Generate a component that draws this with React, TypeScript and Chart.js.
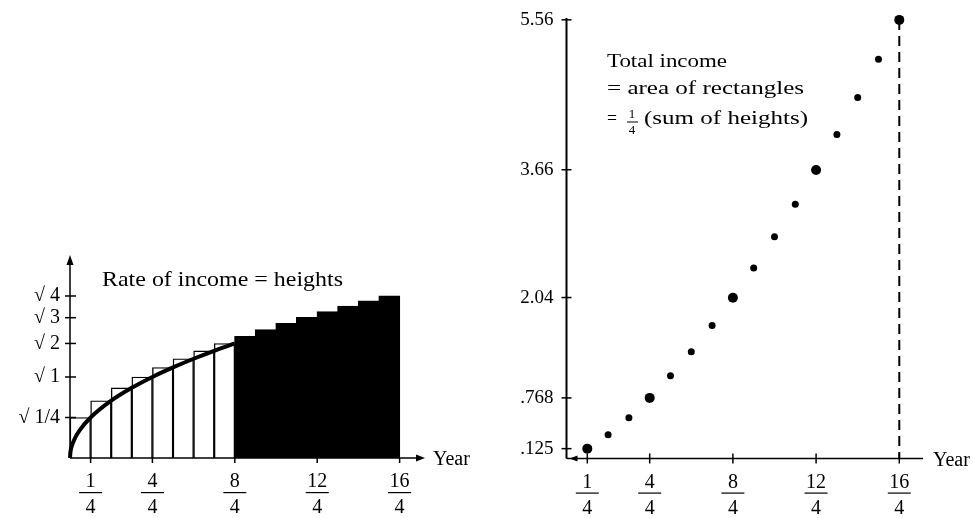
import React, { useEffect, useRef } from "react";
import { Chart, registerables } from "chart.js";

Chart.register(...registerables);

const FONT = "'Liberation Serif', 'Times New Roman', 'DejaVu Serif', serif";

// ---------- Data: left chart (rate of income = heights) ----------
const quarters = [1, 2, 3, 4, 5, 6, 7, 8, 9, 10, 11, 12, 13, 14, 15, 16];
const barHeights = [
  0.5, 0.707, 0.866, 1.0, 1.118, 1.225, 1.323, 1.414,
  1.5, 1.581, 1.658, 1.732, 1.803, 1.871, 1.936, 2.0,
];
const openBarCount = 8; // first 8 rectangles are drawn white
const curveX = [0, 0.005, 0.02, 0.0625, 0.125, 0.25, 0.5, 0.75, 1, 1.25, 1.5, 1.75, 2];
const curveY = [0, 0.071, 0.141, 0.25, 0.354, 0.5, 0.707, 0.866, 1, 1.118, 1.225, 1.323, 1.414];
const rateTickValues = [0.5, 1, 1.414, 1.732, 2];
const rateTickLabels = ["√ 1/4", "√ 1", "√ 2", "√ 3", "√ 4"];

// ---------- Data: right chart (total income) ----------
const totalIncome = [
  0.125, 0.302, 0.518, 0.768, 1.048, 1.354, 1.685, 2.038,
  2.413, 2.809, 3.223, 3.656, 4.107, 4.575, 5.059, 5.559,
];
const highlightQuarters = [1, 4, 8, 12, 16];
const totalTickValues = [0.125, 0.768, 2.04, 3.66, 5.56];
const totalTickLabels = [".125", ".768", "2.04", "3.66", "5.56"];

// ---------- Shared x tick labels (fractions n/4) ----------
const yearTickNumerators = ["1", "4", "8", "12", "16"];
const yearTickDenominator = "4";

function fitText(ctx: CanvasRenderingContext2D, text: string, x: number, base: number, width: number, size: number) {
  ctx.font = `${size}px ${FONT}`;
  const w = ctx.measureText(text).width;
  ctx.save();
  ctx.translate(x, base);
  ctx.scale(width / w, 1);
  ctx.textAlign = "left";
  ctx.textBaseline = "alphabetic";
  ctx.fillText(text, 0, 0);
  ctx.restore();
}

function drawFraction(ctx: CanvasRenderingContext2D, cx: number, axisY: number, num: string, den: string) {
  ctx.font = `20px ${FONT}`;
  ctx.textAlign = "center";
  ctx.textBaseline = "middle";
  ctx.fillText(num, cx, axisY + 24);
  ctx.fillRect(cx - 11.5, axisY + 34, 23, 1.2);
  ctx.fillText(den, cx, axisY + 50);
}

function seg(ctx: CanvasRenderingContext2D, x1: number, y1: number, x2: number, y2: number) {
  ctx.beginPath();
  ctx.moveTo(x1, y1);
  ctx.lineTo(x2, y2);
  ctx.stroke();
}

function tri(ctx: CanvasRenderingContext2D, pts: number[][]) {
  ctx.beginPath();
  ctx.moveTo(pts[0][0], pts[0][1]);
  ctx.lineTo(pts[1][0], pts[1][1]);
  ctx.lineTo(pts[2][0], pts[2][1]);
  ctx.closePath();
  ctx.fill();
}

const leftPlugin = {
  id: "leftAxes",
  afterDatasetsDraw(chart: any) {
    const ctx: CanvasRenderingContext2D = chart.ctx;
    const xs = chart.scales.x;
    const ys = chart.scales.y;
    const area = chart.chartArea;
    const x0 = xs.getPixelForValue(0);
    const y0 = ys.getPixelForValue(0);
    ctx.save();
    ctx.strokeStyle = "#000";
    ctx.fillStyle = "#000";
    ctx.lineWidth = 1.5;
    // axes
    seg(ctx, x0, y0, area.right - 4, y0);
    seg(ctx, x0, y0, x0, area.top + 4);
    tri(ctx, [[area.right, y0], [area.right - 9, y0 - 3.5], [area.right - 9, y0 + 3.5]]);
    tri(ctx, [[x0, area.top], [x0 - 3.5, area.top + 10], [x0 + 3.5, area.top + 10]]);
    // y ticks
    ctx.font = `20px ${FONT}`;
    ctx.textAlign = "right";
    ctx.textBaseline = "middle";
    rateTickValues.forEach((v, i) => {
      const y = ys.getPixelForValue(v);
      seg(ctx, x0 - 5, y, x0 + 6, y);
      ctx.fillText(rateTickLabels[i], x0 - 10, y);
    });
    // x ticks
    yearTickNumerators.forEach((n) => {
      const x = xs.getPixelForValue(Number(n) / Number(yearTickDenominator));
      seg(ctx, x, y0, x, y0 + 5);
      drawFraction(ctx, x, y0, n, yearTickDenominator);
    });
    // axis title
    ctx.font = `20px ${FONT}`;
    ctx.textAlign = "left";
    ctx.textBaseline = "alphabetic";
    ctx.fillText("Year", area.right + 8, y0 + 7);
    // note
    fitText(ctx, "Rate of income = heights", 102, 286, 241, 21);
    ctx.restore();
  },
};

const rightPlugin = {
  id: "rightAxes",
  beforeDatasetsDraw(chart: any) {
    const ctx: CanvasRenderingContext2D = chart.ctx;
    const xs = chart.scales.x;
    const ys = chart.scales.y;
    const area = chart.chartArea;
    const x0 = xs.getPixelForValue(0);
    const y0 = ys.getPixelForValue(0);
    ctx.save();
    ctx.strokeStyle = "#000";
    ctx.fillStyle = "#000";
    ctx.lineWidth = 1.5;
    seg(ctx, x0, y0, area.right, y0);
    ctx.lineWidth = 2;
    seg(ctx, x0, y0, x0, area.top);
    ctx.lineWidth = 1.5;
    tri(ctx, [[x0 + 3, y0], [x0 + 11, y0 - 3], [x0 + 11, y0 + 3]]);
    ctx.font = `19px ${FONT}`;
    ctx.textAlign = "right";
    ctx.textBaseline = "middle";
    totalTickValues.forEach((v, i) => {
      const y = ys.getPixelForValue(v);
      seg(ctx, x0 - 5, y, x0 + 5, y);
      ctx.fillText(totalTickLabels[i], x0 - 13, y);
    });
    yearTickNumerators.forEach((n) => {
      const x = xs.getPixelForValue(Number(n) / Number(yearTickDenominator));
      seg(ctx, x, y0 - 5, x, y0 + 5);
      drawFraction(ctx, x, y0, n, yearTickDenominator);
    });
    ctx.font = `20px ${FONT}`;
    ctx.textAlign = "left";
    ctx.textBaseline = "alphabetic";
    ctx.fillText("Year", area.right + 10, y0 + 7);
    // notes
    fitText(ctx, "Total income", 117, 66.5, 120, 19);
    fitText(ctx, "= area of rectangles", 117, 93.5, 197, 19);
    fitText(ctx, "=", 117, 124, 10, 19);
    ctx.font = `13px ${FONT}`;
    ctx.textAlign = "center";
    ctx.textBaseline = "middle";
    ctx.fillText("1", 142, 115);
    ctx.fillRect(137, 121.5, 11, 1);
    ctx.fillText("4", 142, 131);
    fitText(ctx, "(sum of heights)", 154, 124, 164, 19);
    ctx.restore();
  },
};

export default function App() {
  const leftRef = useRef<HTMLCanvasElement>(null);
  const rightRef = useRef<HTMLCanvasElement>(null);

  useEffect(() => {
    const barCenters = quarters.map((q) => (q - 0.5) / 4);
    const left = new Chart(leftRef.current as HTMLCanvasElement, {
      type: "bar",
      data: {
        datasets: [
          {
            type: "line",
            data: curveX.map((x, i) => ({ x, y: curveY[i] })),
            borderColor: "#000",
            borderWidth: 4,
            pointRadius: 0,
            cubicInterpolationMode: "monotone",
            fill: false,
            order: 0,
            clip: false,
          } as any,
          {
            type: "bar",
            data: quarters.map((q, i) => ({ x: barCenters[i], y: barHeights[i] })),
            backgroundColor: quarters.map((q) => (q <= openBarCount ? "#fff" : "#000")),
            borderColor: "#000",
            borderWidth: quarters.map((q) => (q <= openBarCount ? 1.4 : 1)),
            inflateAmount: quarters.map((q) => (q <= openBarCount ? 0.3 : 0.6)),
            barPercentage: 1,
            categoryPercentage: 1,
            order: 1,
          } as any,
        ],
      },
      options: {
        animation: false,
        responsive: false,
        devicePixelRatio: 1,
        events: [],
        layout: { padding: { left: 70, right: 65, top: 255, bottom: 60 } },
        plugins: { legend: { display: false }, tooltip: { enabled: false } },
        scales: {
          x: { type: "linear", min: 0, max: 4.308, offset: false, display: false, ticks: { stepSize: 1 } },
          y: { type: "linear", min: 0, max: 2.506, display: false },
        },
      } as any,
      plugins: [leftPlugin],
    });

    const right = new Chart(rightRef.current as HTMLCanvasElement, {
      type: "scatter",
      data: {
        datasets: [
          {
            type: "scatter",
            data: quarters.map((q, i) => ({ x: q / 4, y: totalIncome[i] })),
            pointRadius: (c: any) => (highlightQuarters.includes(quarters[c.dataIndex]) ? 5 : 3.5),
            backgroundColor: "#000",
            borderColor: "#000",
            borderWidth: 0,
            clip: false,
            order: 0,
          } as any,
          {
            type: "line",
            data: [
              { x: quarters[15] / 4, y: totalIncome[15] },
              { x: quarters[15] / 4, y: 0 },
            ],
            borderColor: "#000",
            borderWidth: 2,
            borderDash: [10, 6],
            pointRadius: 0,
            fill: false,
            clip: false,
            order: 1,
          } as any,
        ],
      },
      options: {
        animation: false,
        responsive: false,
        devicePixelRatio: 1,
        events: [],
        layout: { padding: { left: 76.5, right: 50, top: 18, bottom: 59.5 } },
        plugins: { legend: { display: false }, tooltip: { enabled: false } },
        scales: {
          x: { type: "linear", min: 0, max: 4.285, display: false },
          y: { type: "linear", min: 0, max: 5.583, display: false },
        },
      } as any,
      plugins: [rightPlugin],
    });

    return () => {
      left.destroy();
      right.destroy();
    };
  }, []);

  return (
    <div style={{ position: "fixed", left: 0, top: 0, width: 973, height: 518, background: "#fff" }}>
      <canvas ref={leftRef} width={490} height={518} style={{ position: "absolute", left: 0, top: 0, width: 490, height: 518 }} />
      <canvas ref={rightRef} width={483} height={518} style={{ position: "absolute", left: 490, top: 0, width: 483, height: 518 }} />
    </div>
  );
}
